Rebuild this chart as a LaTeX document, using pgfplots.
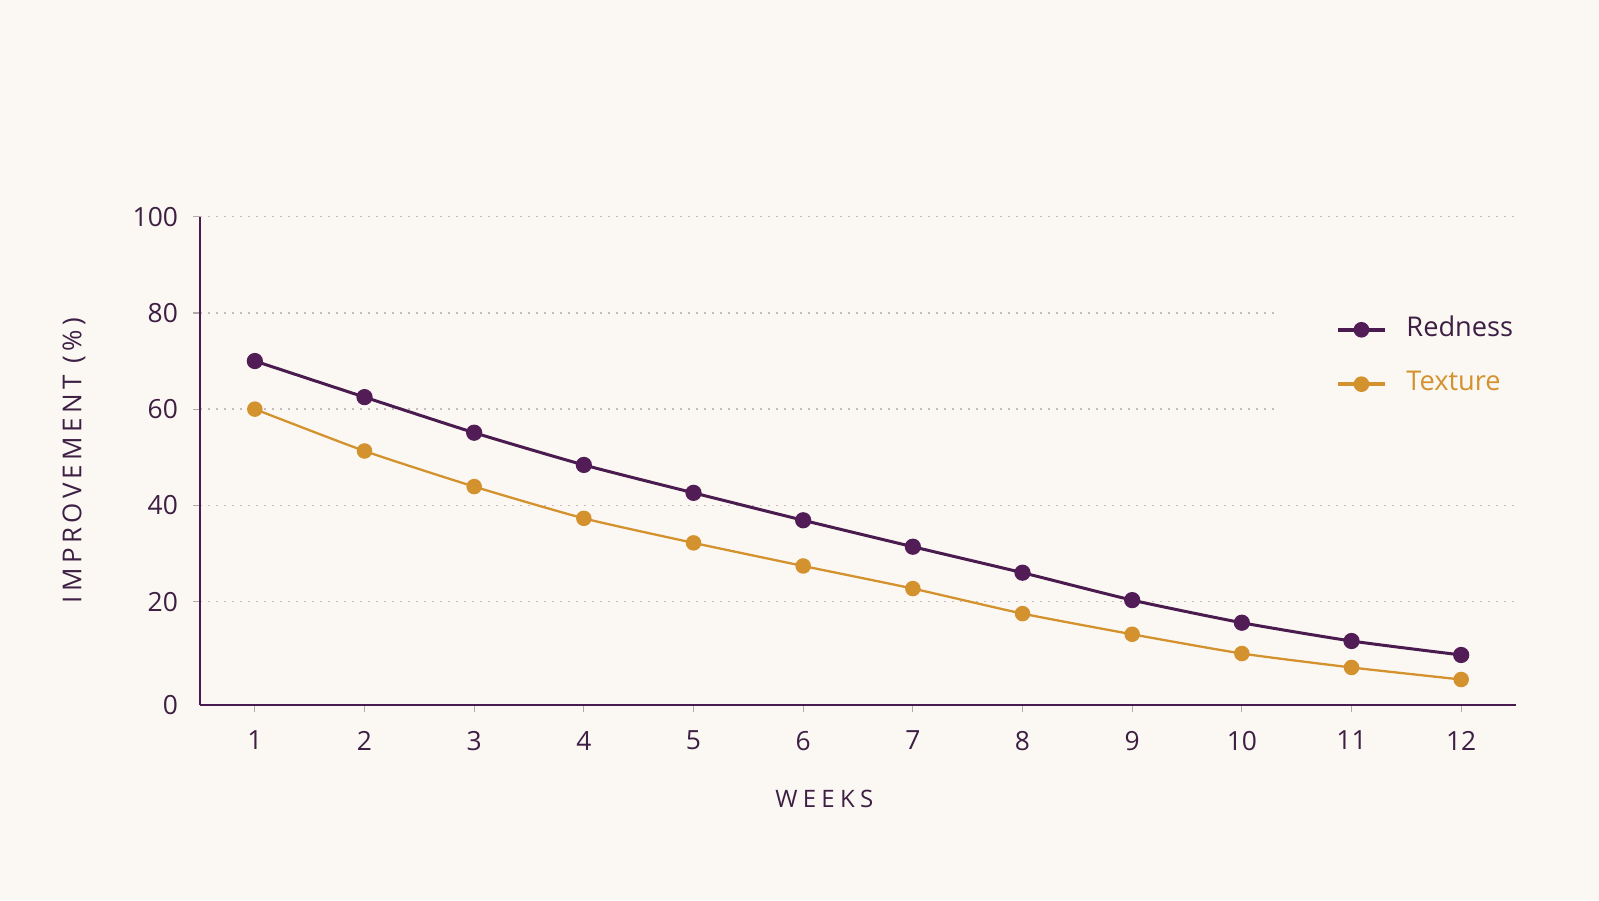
\documentclass[border=0pt]{standalone}
\usepackage{pgfplots}
\pgfplotsset{compat=1.18}
\usepackage{fontspec}
\setmainfont{Open Sans}
\definecolor{bg}{HTML}{FBF8F3}
\definecolor{plum}{HTML}{4A1B4E}
\definecolor{plummark}{HTML}{521D57}
\definecolor{plumtext}{HTML}{3E1F44}
\definecolor{gold}{HTML}{D4922E}
\definecolor{gridc}{HTML}{C4BCBC}
\definecolor{tickc}{HTML}{B0AAAA}

% improvement (%) per week
\pgfplotstableread{
week redness texture
1  70.0 60.0
2  62.5 51.3
3  55.1 43.9
4  48.4 37.3
5  42.6 32.2
6  36.9 27.4
7  31.4 22.7
8  26.0 17.5
9  20.3 13.2
10 15.6 9.2
11 11.8 6.3
12 8.9  3.8
}\datatable

\begin{document}
\begin{tikzpicture}[x=1pt,y=1pt]
\fill[bg] (0,0) rectangle (799.5,450);
\begin{axis}[
  at={(100pt,97.5pt)}, anchor=south west,
  scale only axis, width=658pt, height=244.15pt,
  xmin=0.5, xmax=12.5, ymin=-1.5, ymax=100,
  axis x line=bottom, axis y line=left,
  axis line style={plum, line width=0.8pt, -},
  xtick={1,...,12}, ytick={20,40,...,100},
  extra y ticks={-1.5}, extra y tick labels={0},
  extra y tick style={grid=none, major tick style={draw=none}},
  tick style={tickc, line width=0.6pt},
  tick align=outside, major tick length=3.5pt,
  ymajorgrids,
  major grid style={gridc, line width=0.7pt, dash pattern=on 0.8pt off 3.2pt},
  tick label style={font=\fontsize{13.2}{15}\selectfont, text=plumtext},
  xticklabel style={yshift=-6pt},
  yticklabel style={xshift=-4pt},
  /pgf/number format/assume math mode=true,
  xlabel={\addfontfeatures{LetterSpace=22}WEEKS},
  ylabel={\addfontfeatures{LetterSpace=17}IMPROVEMENT (\%)},
  xlabel style={font=\fontsize{12}{14}\selectfont, text=plumtext,
    at={(0.4744,0)}, anchor=center, yshift=-47.2pt},
  ylabel style={font=\fontsize{13}{15}\selectfont, text=plumtext,
    at={(0,0.5)}, anchor=center, yshift=63pt},
  legend image code/.code={
    \draw[#1, mark repeat=2, mark phase=2, line width=2pt, mark size=2.9pt]
      plot coordinates {(0pt,0pt) (11.5pt,0pt) (23pt,0pt)};
  },
  legend style={
    at={(0.8207,0.7127)}, anchor=west,
    fill=bg, draw=none, inner xsep=28pt, inner ysep=12pt,
    font=\fontsize{13.6}{16}\selectfont,
    nodes={inner sep=0pt, text height=9.7pt, text depth=3pt, anchor=west},
    row sep=14.5pt,
    /tikz/every odd column/.append style={column sep=10pt},
  },
  legend cell align=left,
  clip=false,
]
\addplot[plum, line width=1.5pt, smooth, tension=0.35, mark=*, mark size=3.3pt,
  mark options={fill=plummark, draw=plummark}] table[x=week, y=redness] {\datatable};
\addlegendentry{\textcolor{plumtext}{Redness}}
\addplot[gold, line width=1.15pt, smooth, tension=0.35, mark=*, mark size=3.3pt,
  mark options={fill=gold, draw=gold}] table[x=week, y=texture] {\datatable};
\addlegendentry{\textcolor{gold}{Texture}}
\end{axis}
\end{tikzpicture}
\end{document}
